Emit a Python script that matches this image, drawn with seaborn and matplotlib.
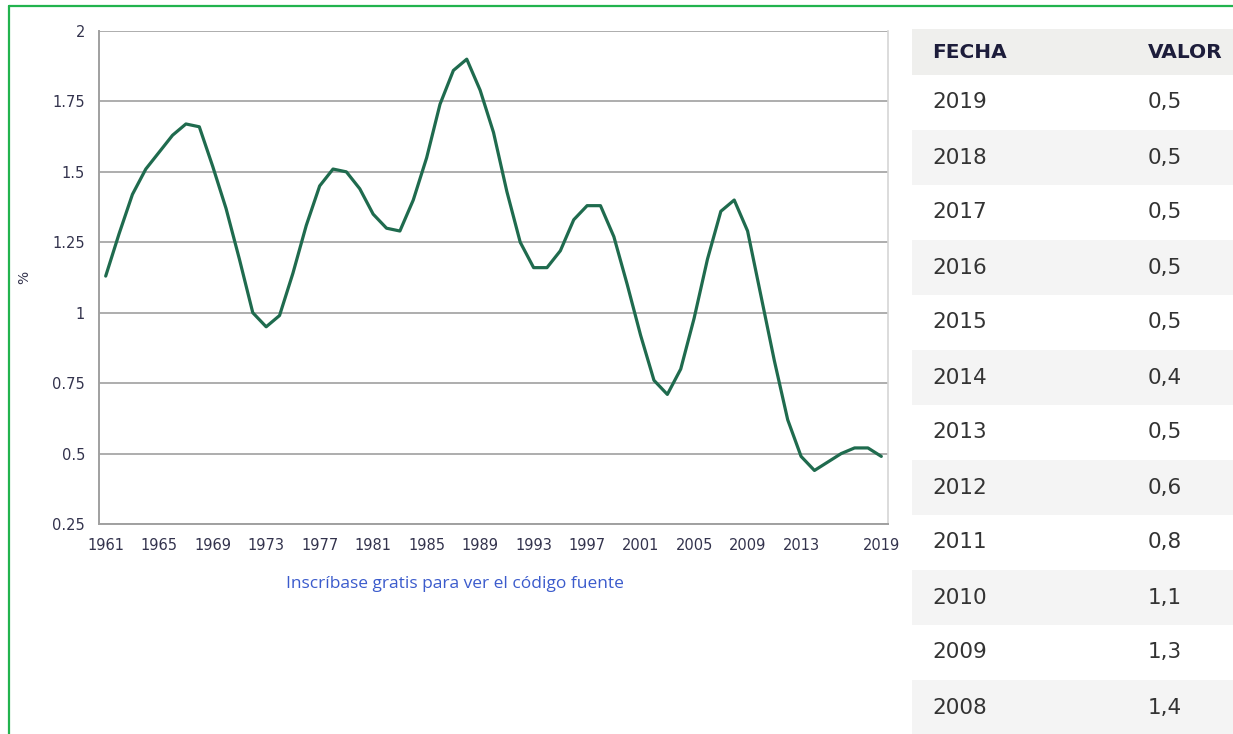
import matplotlib
matplotlib.use("Agg")
import matplotlib.pyplot as plt
from matplotlib.lines import Line2D
from matplotlib.ticker import FixedLocator, NullFormatter
import seaborn as sns
import pandas as pd

# ---------------- data ----------------
years = list(range(1961, 2020))
values = [1.13, 1.28, 1.42, 1.51, 1.57, 1.63, 1.67, 1.66, 1.52, 1.37,
          1.19, 1.00, 0.95, 0.99, 1.14, 1.31, 1.45, 1.51, 1.50, 1.44,
          1.35, 1.30, 1.29, 1.40, 1.55, 1.74, 1.86, 1.90, 1.79, 1.64,
          1.43, 1.25, 1.16, 1.16, 1.22, 1.33, 1.38, 1.38, 1.27, 1.10,
          0.92, 0.76, 0.71, 0.80, 0.98, 1.19, 1.36, 1.40, 1.29, 1.06,
          0.83, 0.62, 0.49, 0.44, 0.47, 0.50, 0.52, 0.52, 0.49]
label_years = [1961, 1965, 1969, 1973, 1977, 1981, 1985, 1989, 1993,
               1997, 2001, 2005, 2009, 2013, 2019]
y_ticks = [0.25, 0.5, 0.75, 1, 1.25, 1.5, 1.75, 2]
y_tick_labels = ["0.25", "0.5", "0.75", "1", "1.25", "1.5", "1.75", "2"]

table_header = ["FECHA", "VALOR"]
table_years = ["2019", "2018", "2017", "2016", "2015", "2014",
               "2013", "2012", "2011", "2010", "2009", "2008"]
table_values = ["0,5", "0,5", "0,5", "0,5", "0,5", "0,4",
                "0,5", "0,6", "0,8", "1,1", "1,3", "1,4"]

source_text = "Inscríbase gratis para ver el código fuente"

# ---------------- style ----------------
sns.set_style("white")
plt.rcParams["font.family"] = ["DejaVu Sans"]

W, H = 1233, 734
fig = plt.figure(figsize=(W / 100, H / 100), dpi=100)
fig.patch.set_facecolor("white")

def fx(px):
    return px / W

def fy(py):
    return 1 - py / H

# ---------------- line chart ----------------
ax_l, ax_r, ax_t, ax_b = 99, 888, 31, 524
ax = fig.add_axes([fx(ax_l), fy(ax_b), fx(ax_r) - fx(ax_l), fy(ax_t) - fy(ax_b)])
df = pd.DataFrame({"year": years, "value": values})
sns.lineplot(data=df, x="year", y="value", ax=ax, color="#1f6b4e",
             linewidth=2.3, legend=False)

ax.set_xlim(years[0] - 0.5, years[-1] + 0.5)
ax.set_ylim(0.25, 2)
ax.set_yticks(y_ticks)
ax.set_yticklabels(y_tick_labels)
ax.yaxis.grid(True, color="#a0a0a0", linewidth=1.2)
ax.xaxis.grid(False)
ax.set_axisbelow(True)

ax.set_xticks(label_years)
ax.set_xticklabels([str(y) for y in label_years])
ax.xaxis.set_minor_locator(FixedLocator([y - 0.5 for y in years] + [years[-1] + 0.5]))
ax.xaxis.set_minor_formatter(NullFormatter())
ax.tick_params(axis="x", which="major", length=0, pad=10,
               labelsize=10.5, labelcolor="#33334d")
ax.tick_params(axis="x", which="minor", length=6, width=1.2,
               color="#a0a0a0", direction="out")
ax.tick_params(axis="y", which="major", length=0, pad=10,
               labelsize=10.5, labelcolor="#33334d")

for side in ["left", "bottom"]:
    ax.spines[side].set_color("#a0a0a0")
    ax.spines[side].set_linewidth(1.4)
ax.spines["right"].set_color("#d6d6d6")
ax.spines["right"].set_linewidth(1.2)
ax.spines["top"].set_visible(False)

ax.set_xlabel("")
ax.set_ylabel("%", fontsize=10, color="#33334d")
ax.yaxis.set_label_coords((31 - ax_l) / (ax_r - ax_l), (ax_b - 277) / (ax_b - ax_t))

fig.text(fx(455), fy(584), source_text, ha="center", va="center",
         fontsize=12.5, color="#3b5bcc", family=["Open Sans", "DejaVu Sans"])

# ---------------- table ----------------
tx0, ty0 = 912, 29
tax = fig.add_axes([fx(tx0), fy(H), fx(W) - fx(tx0), fy(ty0) - fy(H)])
tax.set_xlim(0, W - tx0)
tax.set_ylim(H - ty0, 0)
tax.axis("off")

header_h, row_h = 46, 55
tax.axhspan(0, header_h, color="#efefed", lw=0)
tax.text(20, header_h / 2, table_header[0], ha="left", va="center",
         fontsize=14.5, fontweight="bold", color="#1d1d3b")
tax.text(236, header_h / 2, table_header[1], ha="left", va="center",
         fontsize=14.5, fontweight="bold", color="#1d1d3b")

for i, (yr, val) in enumerate(zip(table_years, table_values)):
    top = header_h + i * row_h
    if i % 2 == 1:
        tax.axhspan(top, top + row_h, color="#f4f4f4", lw=0)
    tax.text(20, top + row_h / 2, yr, ha="left", va="center",
             fontsize=15.5, color="#333333")
    tax.text(236, top + row_h / 2, val, ha="left", va="center",
             fontsize=15.5, color="#333333")

# ---------------- green frame ----------------
fig.add_artist(Line2D([fx(9), fx(W)], [fy(6), fy(6)], color="#22b34e", lw=1.6))
fig.add_artist(Line2D([fx(9), fx(9)], [fy(6), 0], color="#22b34e", lw=1.6))

fig.savefig("out.png", dpi=100)
